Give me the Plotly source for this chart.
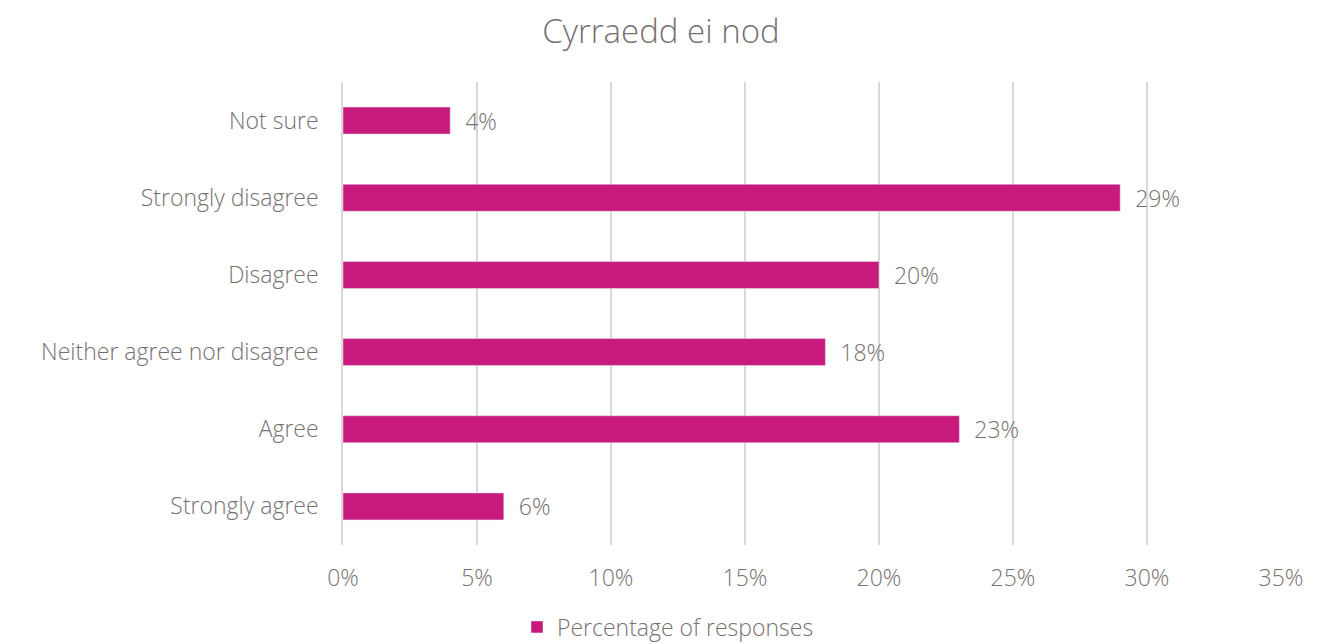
import plotly.graph_objects as go

categories = ["Strongly agree", "Agree", "Neither agree nor disagree", "Disagree", "Strongly disagree", "Not sure"]
values = [6, 23, 18, 20, 29, 4]
series_name = "Percentage of responses"
tick_vals = [0, 5, 10, 15, 20, 25, 30, 35]
tick_text = ["0%", "5%", "10%", "15%", "20%", "25%", "30%", "35%"]

FONT = "Open Sans"
GREY = "#767171"
BAR = "#C8197D"
FS = 23

# page body has an 8px default margin, so the figure is sized/offset to compensate
W, H = 1314, 636

fig = go.Figure(go.Bar(
    y=categories, x=values, orientation="h", name=series_name,
    marker_color=BAR, width=0.35,
    text=[f"  {v}%" for v in values], textposition="outside",
    constraintext="none",
    textfont=dict(family=FONT, size=FS, color=GREY, weight=300),
    cliponaxis=False, showlegend=True,
))

fig.update_layout(
    width=W, height=H,
    paper_bgcolor="white", plot_bgcolor="white",
    margin=dict(l=335, r=41, t=74, b=99, autoexpand=False),
    title=dict(text="Cyrraedd ei nod", x=(661 - 8) / W, xanchor="center",
               y=1 - 23 / H, yanchor="middle", yref="container",
               font=dict(family=FONT, size=33, color=GREY, weight=300)),
    xaxis=dict(range=[0, 35], tickvals=tick_vals, ticktext=tick_text,
               showgrid=True, gridcolor="#D9D9D9", gridwidth=1.5, zeroline=False,
               showline=False, ticks="", ticklabelstandoff=17,
               tickfont=dict(family=FONT, size=FS, color=GREY, weight=300)),
    yaxis=dict(showgrid=False, showline=True, linecolor="#D9D9D9", linewidth=1.5,
               ticks="", ticklabelstandoff=18,
               tickfont=dict(family=FONT, size=FS, color=GREY, weight=300)),
    legend=dict(orientation="h", x=(668 - 8) / W, xanchor="center", xref="container",
                y=17 / H, yanchor="middle", yref="container",
                font=dict(family=FONT, size=FS, color=GREY, weight=300),
                itemwidth=30),
    bargap=0.65,
)

fig.write_html("out.html")
